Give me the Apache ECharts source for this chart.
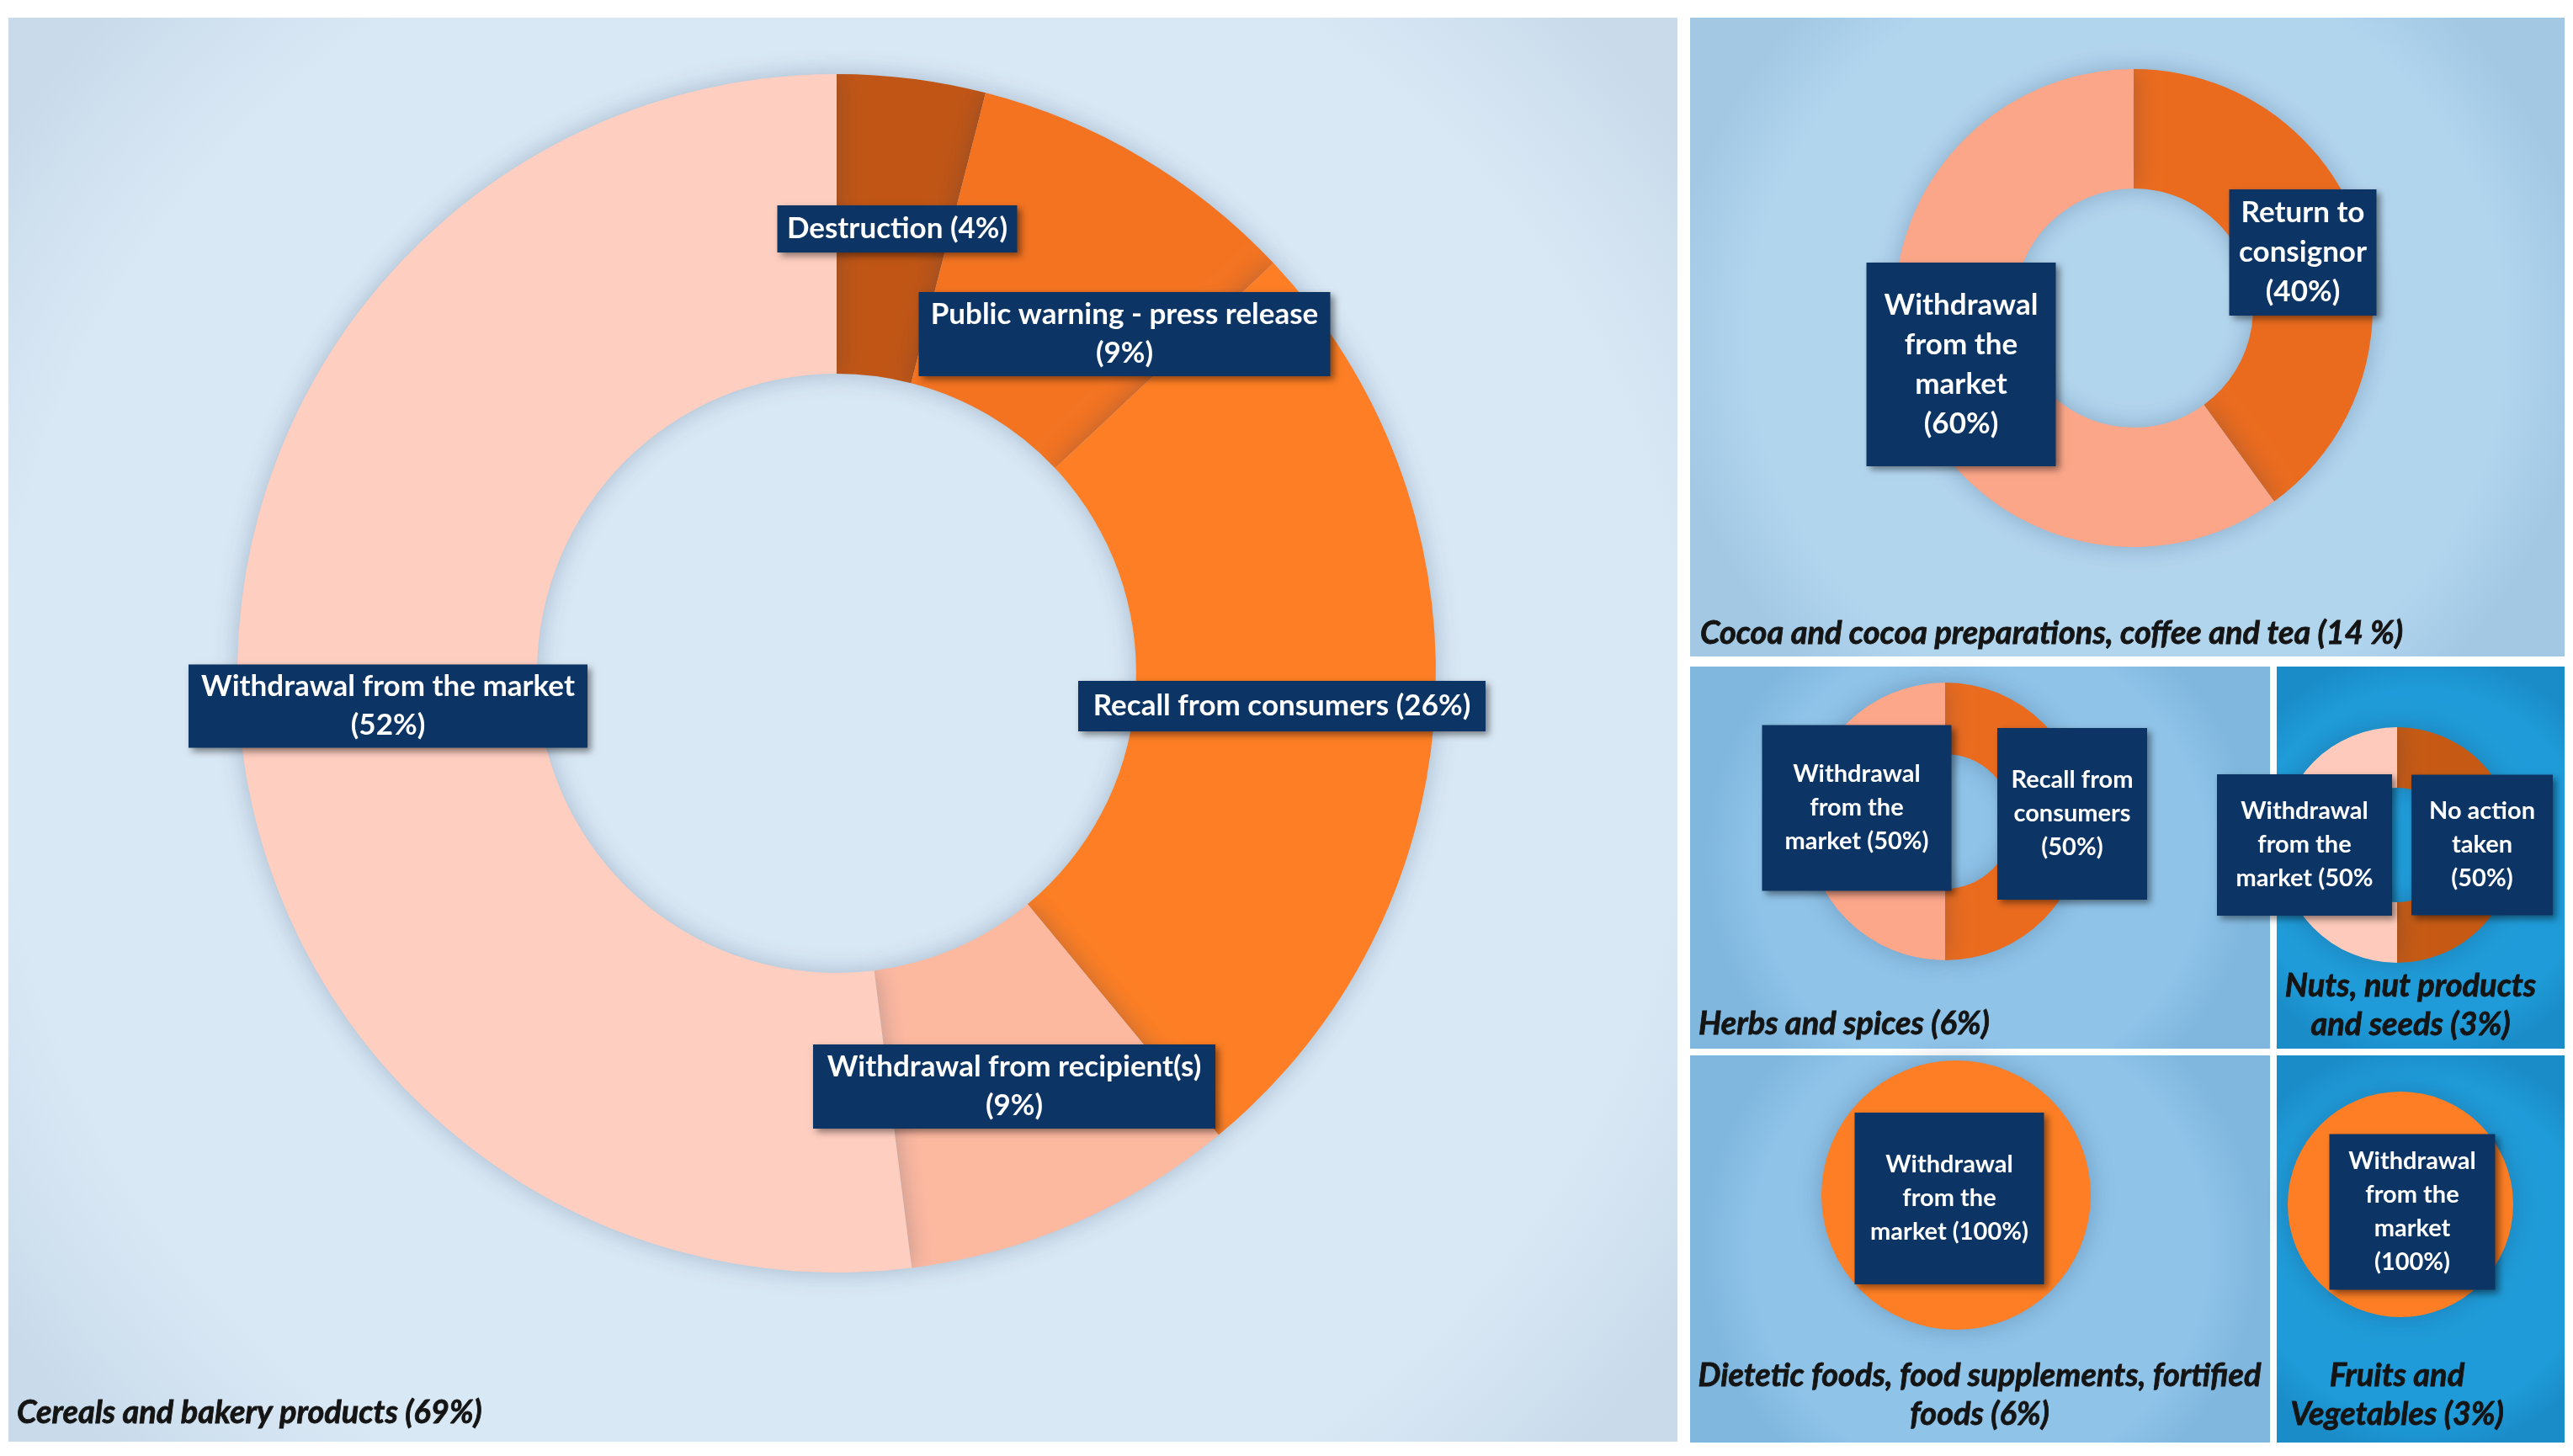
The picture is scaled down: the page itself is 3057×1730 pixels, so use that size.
<!DOCTYPE html>
<html><head><meta charset="utf-8">
<script src="https://cdn.jsdelivr.net/npm/echarts@6/dist/echarts.min.js"></script>
<style>html,body{margin:0;padding:0;background:#fff}#c{width:3057px;height:1730px}</style>
</head><body><div id="c"></div>
<script>
// ---------- DATA ----------
const cerealsCats = ['Destruction', 'Public warning - press release', 'Recall from consumers', 'Withdrawal from recipient(s)', 'Withdrawal from the market'];
const cerealsValues = [4, 9, 26, 9, 52];
const cerealsLabels = ['Destruction (4%)', 'Public warning - press release\n(9%)', 'Recall from consumers (26%)', 'Withdrawal from recipient(s)\n(9%)', 'Withdrawal from the market\n(52%)'];

const cocoaCats = ['Return to consignor', 'Withdrawal from the market'];
const cocoaValues = [40, 60];
const cocoaLabels = ['Return to\nconsignor\n(40%)', 'Withdrawal\nfrom the\nmarket\n(60%)'];

const herbsCats = ['Recall from consumers', 'Withdrawal from the market'];
const herbsValues = [50, 50];
const herbsLabels = ['Recall from\nconsumers\n(50%)', 'Withdrawal\nfrom the\nmarket (50%)'];

const nutsCats = ['No action taken', 'Withdrawal from the market'];
const nutsValues = [50, 50];
const nutsLabels = ['No action\ntaken\n(50%)', 'Withdrawal\nfrom the\nmarket (50%'];

const dieteticCats = ['Withdrawal from the market'];
const dieteticValues = [100];
const dieteticLabels = ['Withdrawal\nfrom the\nmarket (100%)'];

const fruitsCats = ['Withdrawal from the market'];
const fruitsValues = [100];
const fruitsLabels = ['Withdrawal\nfrom the\nmarket\n(100%)'];

const panelTitles = [
  'Cereals and bakery products (69%)',
  'Cocoa and cocoa preparations, coffee and tea (14 %)',
  'Herbs and spices (6%)',
  'Nuts, nut products\nand seeds (3%)',
  'Dietetic foods, food supplements, fortified\nfoods (6%)',
  'Fruits and\nVegetables (3%)'
];

// ---------- LAYOUT / STYLE ----------
const FONT = 'Lato, "Open Sans", sans-serif';
const NAVY = '#0c3464';

const panels = [
  {x: 10, y: 21, w: 1983, h: 1692, c: '#d9e8f5', e: '#c9dbeb'},
  {x: 2008, y: 21, w: 1039, h: 759, c: '#b2d5ee', e: '#a2c8e4'},
  {x: 2008, y: 792, w: 689, h: 454, c: '#8fc3e8', e: '#80b7de'},
  {x: 2705, y: 792, w: 342, h: 454, c: '#1e9bd8', e: '#1a8cc8'},
  {x: 2008, y: 1254, w: 689, h: 460, c: '#8fc3e8', e: '#80b7de'},
  {x: 2705, y: 1254, w: 342, h: 460, c: '#1e9bd8', e: '#1a8cc8'}
];

const titlePos = [
  {x: 20, y: 1679, align: 'left'},
  {x: 2020, y: 753, align: 'left'},
  {x: 2018, y: 1217, align: 'left'},
  {x: 2864, y: 1195, align: 'center'},
  {x: 2352, y: 1658, align: 'center'},
  {x: 2848, y: 1658, align: 'center'}
];

const pies = [
  {cats: cerealsCats, vals: cerealsValues, labels: cerealsLabels,
   center: [994, 800], radius: [356, 712],
   colors: ['#c05515', '#f37321', '#fd7e24', '#fdb8a0', '#fecec0'],
   fs: 35, lh: 46,
   boxes: [[1066, 272, 285, 56], [1336, 397, 489, 100], [1523, 839, 484, 60], [1205, 1291, 478, 100], [461, 839, 474, 99]]},
  {cats: cocoaCats, vals: cocoaValues, labels: cocoaLabels,
   center: [2535, 366], radius: [142, 284],
   colors: ['#ea6b1e', '#fba688'],
   fs: 35, lh: 47,
   boxes: [[2736, 300, 175, 150], [2330, 433, 225, 242]]},
  {cats: herbsCats, vals: herbsValues, labels: herbsLabels,
   center: [2311, 976], radius: [80, 165],
   colors: ['#ea6b1e', '#fca68a'],
   fs: 29, lh: 40,
   boxes: [[2462, 967, 178, 204], [2206, 960, 225, 197]]},
  {cats: nutsCats, vals: nutsValues, labels: nutsLabels,
   center: [2848, 1004], radius: [68, 140],
   colors: ['#c65a14', '#fecabb'],
   fs: 29, lh: 40,
   boxes: [[2949, 1004, 168, 167], [2738, 1004, 208, 168]]},
  {cats: dieteticCats, vals: dieteticValues, labels: dieteticLabels,
   center: [2324, 1420], radius: [0, 160],
   colors: ['#fd7e24'],
   fs: 29, lh: 40,
   boxes: [[2316, 1424, 225, 204]]},
  {cats: fruitsCats, vals: fruitsValues, labels: fruitsLabels,
   center: [2852, 1431], radius: [0, 134],
   colors: ['#fd7e24'],
   fs: 29, lh: 40,
   boxes: [[2866, 1440, 197, 185]]}
];

const chart = echarts.init(document.getElementById('c'), null, {renderer: 'canvas'});

const graphics = [];
panels.forEach(p => {
  graphics.push({
    type: 'rect', z: -10, silent: true,
    shape: {x: p.x, y: p.y, width: p.w, height: p.h},
    style: {fill: {type: 'radial', x: 0.5, y: 0.5, r: 0.72,
      colorStops: [{offset: 0, color: p.c}, {offset: 0.82, color: p.c}, {offset: 1, color: p.e}]}}
  });
});
panelTitles.forEach((t, i) => {
  const tp = titlePos[i];
  graphics.push({
    type: 'text', z: 10, silent: true,
    style: {text: t, x: tp.x, y: tp.y, align: tp.align, verticalAlign: 'middle',
      fontFamily: FONT, fontSize: 38, fontWeight: 'bold', fontStyle: 'italic',
      lineHeight: 46, fill: '#141414', stroke: '#141414', lineWidth: 0.8}
  });
});

const series = pies.map(p => ({
  type: 'pie',
  center: p.center,
  radius: p.radius,
  startAngle: 90,
  clockwise: true,
  avoidLabelOverlap: false,
  silent: true,
  animation: false,
  emphasis: {disabled: true},
  itemStyle: {shadowBlur: 30, shadowColor: 'rgba(20,50,90,0.28)', borderWidth: 0},
  labelLine: {show: false},
  label: {
    show: true, position: 'inside', color: '#ffffff', fontFamily: FONT,
    fontWeight: 'bold', fontSize: p.fs, lineHeight: p.lh,
    backgroundColor: NAVY, align: 'center', verticalAlign: 'middle', overflow: 'none',
    shadowBlur: 8, shadowOffsetX: 4, shadowOffsetY: 4, shadowColor: 'rgba(0,0,0,0.45)'
  },
  labelLayout: function (params) {
    const b = p.boxes[params.dataIndex];
    return {x: b[0], y: b[1], hideOverlap: false, moveOverlap: null};
  },
  data: p.cats.map((c, i) => ({
    name: c, value: p.vals[i],
    itemStyle: {color: p.colors[i]},
    label: {formatter: p.labels[i], width: p.boxes[i][2], height: p.boxes[i][3]}
  }))
}));

chart.setOption({
  backgroundColor: '#ffffff',
  animation: false,
  graphic: {elements: graphics},
  series: series
});
</script>
</body></html>
